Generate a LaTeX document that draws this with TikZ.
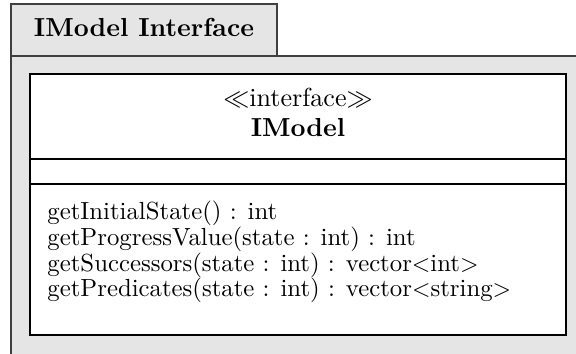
\documentclass[tikz,border=0pt]{standalone}
\begin{document}
\begin{tikzpicture}[x=0.42pt, y=-0.42pt,
    pkgline/.style={draw=black!75, line width=0.5pt},
    clsline/.style={draw=black, line width=0.6pt},
    txt/.style={inner sep=0pt, anchor=base, font=\fontsize{10.95}{13}\selectfont},
    btxt/.style={txt, font=\fontsize{10.95}{13}\selectfont\bfseries},
    optxt/.style={txt, anchor=base west, font=\fontsize{10.4}{12.5}\selectfont}]
  \useasboundingbox (0,0) rectangle (576,354);

  % package: tab and body in grey
  \fill[black!10] (11,4) rectangle (277,56);
  \fill[black!10] (11,56) rectangle (590,370);
  \draw[pkgline] (11,56) -- (11,4) -- (277,4) -- (277,56);
  \draw[pkgline] (11,370) -- (11,56) -- (590,56);
  \node[btxt] (pkgname) at (144,37) {IModel Interface};

  % class box with its three parts
  \fill[white] (30,74) rectangle (566,335);
  \draw[clsline] (30,74) rectangle (566,335);
  \draw[clsline] (30,159) -- (566,159); % name / attributes
  \draw[clsline] (30,184) -- (566,184); % attributes / operations

  % name part
  \node[txt] (stereo) at (298,107) {$\ll$interface$\gg$};
  \node[btxt] (clsname) at (298,137) {IModel};

  % operations
  \foreach \op [count=\i] in {{getInitialState() : int},
      {getProgressValue(state : int) : int},
      {getSuccessors(state : int) : vector$<$int$>$},
      {getPredicates(state : int) : vector$<$string$>$}} {
    \node[optxt] (op\i) at (47, {194.4+25.6*\i}) {\op};
  }
\end{tikzpicture}
\end{document}
